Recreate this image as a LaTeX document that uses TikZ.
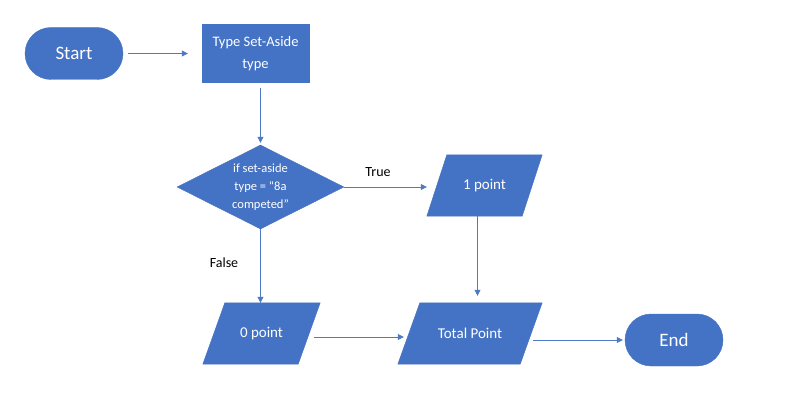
\documentclass[tikz,border=0pt]{standalone}
\usepackage{fontspec}
\setmainfont{Carlito}
\usetikzlibrary{shapes.geometric,shapes.misc,arrows.meta,backgrounds}
\definecolor{ofblue}{HTML}{4472C4}
\definecolor{lineblue}{HTML}{4F7AC3}
\begin{document}
\begin{tikzpicture}[x=1pt,y=-1pt,
  base/.style={fill=ofblue,draw=ofblue,text=white,inner sep=0pt,align=center},
  term/.style={base,rounded rectangle,minimum width=98pt,minimum height=52pt,font=\fontsize{19}{22}\selectfont},
  proc/.style={base,rectangle,minimum width=107pt,minimum height=58pt,font=\fontsize{14.5}{21.5}\selectfont},
  dec/.style={base,diamond,aspect=2,minimum width=167pt,minimum height=84pt,font=\fontsize{12.5}{18.3}\selectfont},
  io/.style={rectangle,text=white,inner sep=0pt,align=center,minimum height=61pt,font=\fontsize{15}{18}\selectfont},
  iofill/.style={fill=ofblue,draw=ofblue},
  conn/.style={draw=lineblue,line width=0.8pt,-{Triangle[length=6pt,width=6pt]}},
  lbl/.style={font=\fontsize{14}{16}\selectfont,text=black,inner sep=0pt}
]
\useasboundingbox (0,0) rectangle (785,401);
\node[term] (start) at (74,53.5) {Start};
\node[proc] (type) at (255.5,53.5) {Type Set-Aside\\type};
\node[dec] (dec) at (260.5,187) {if set-aside\\type = “8a\\competed”};
\node[io,minimum width=95pt] (one) at (484.5,185.5) {1 point};
\node[io,minimum width=95pt] (zero) at (261.5,333.5) {0 point};
\node[io,minimum width=122pt] (total) at (470,333.5) {Total Point};
\node[term] (end) at (674,340) {End};
\node[lbl] (truelbl) at (378,172) {True};
\node[lbl] (falselbl) at (224,263) {False};

\begin{scope}[on background layer]
\fill[white] (0,0) rectangle (785,401);
\path[iofill] ([xshift=10pt]one.north west) -- ([xshift=10pt]one.north east) -- ([xshift=-10pt]one.south east) -- ([xshift=-10pt]one.south west) -- cycle;
\path[iofill] ([xshift=11pt]zero.north west) -- ([xshift=11pt]zero.north east) -- ([xshift=-11pt]zero.south east) -- ([xshift=-11pt]zero.south west) -- cycle;
\path[iofill] ([xshift=11pt]total.north west) -- ([xshift=11pt]total.north east) -- ([xshift=-11pt]total.south east) -- ([xshift=-11pt]total.south west) -- cycle;
\end{scope}

\draw[conn] ([xshift=5pt]start.east) -- ([xshift=-14pt]type.west);
\draw[conn] ([yshift=-5pt]type.south -| dec.north) -- ([yshift=2pt]dec.north);
\draw[conn] (dec.east) -- ([xshift=-10pt]one.west |- dec.east);
\draw[conn] ([xshift=-7pt]one.south) -- ([xshift=-7pt,yshift=7pt]one.south |- total.north);
\draw[conn] (dec.south) -- (dec.south |- zero.north);
\draw[conn] ([xshift=5pt,yshift=-3.5pt]zero.east) -- ([xshift=-5pt,yshift=-3.5pt]zero.east -| total.west);
\draw[conn] ([xshift=2pt]total.east |- end.west) -- ([xshift=-2pt]end.west);
\end{tikzpicture}
\end{document}
